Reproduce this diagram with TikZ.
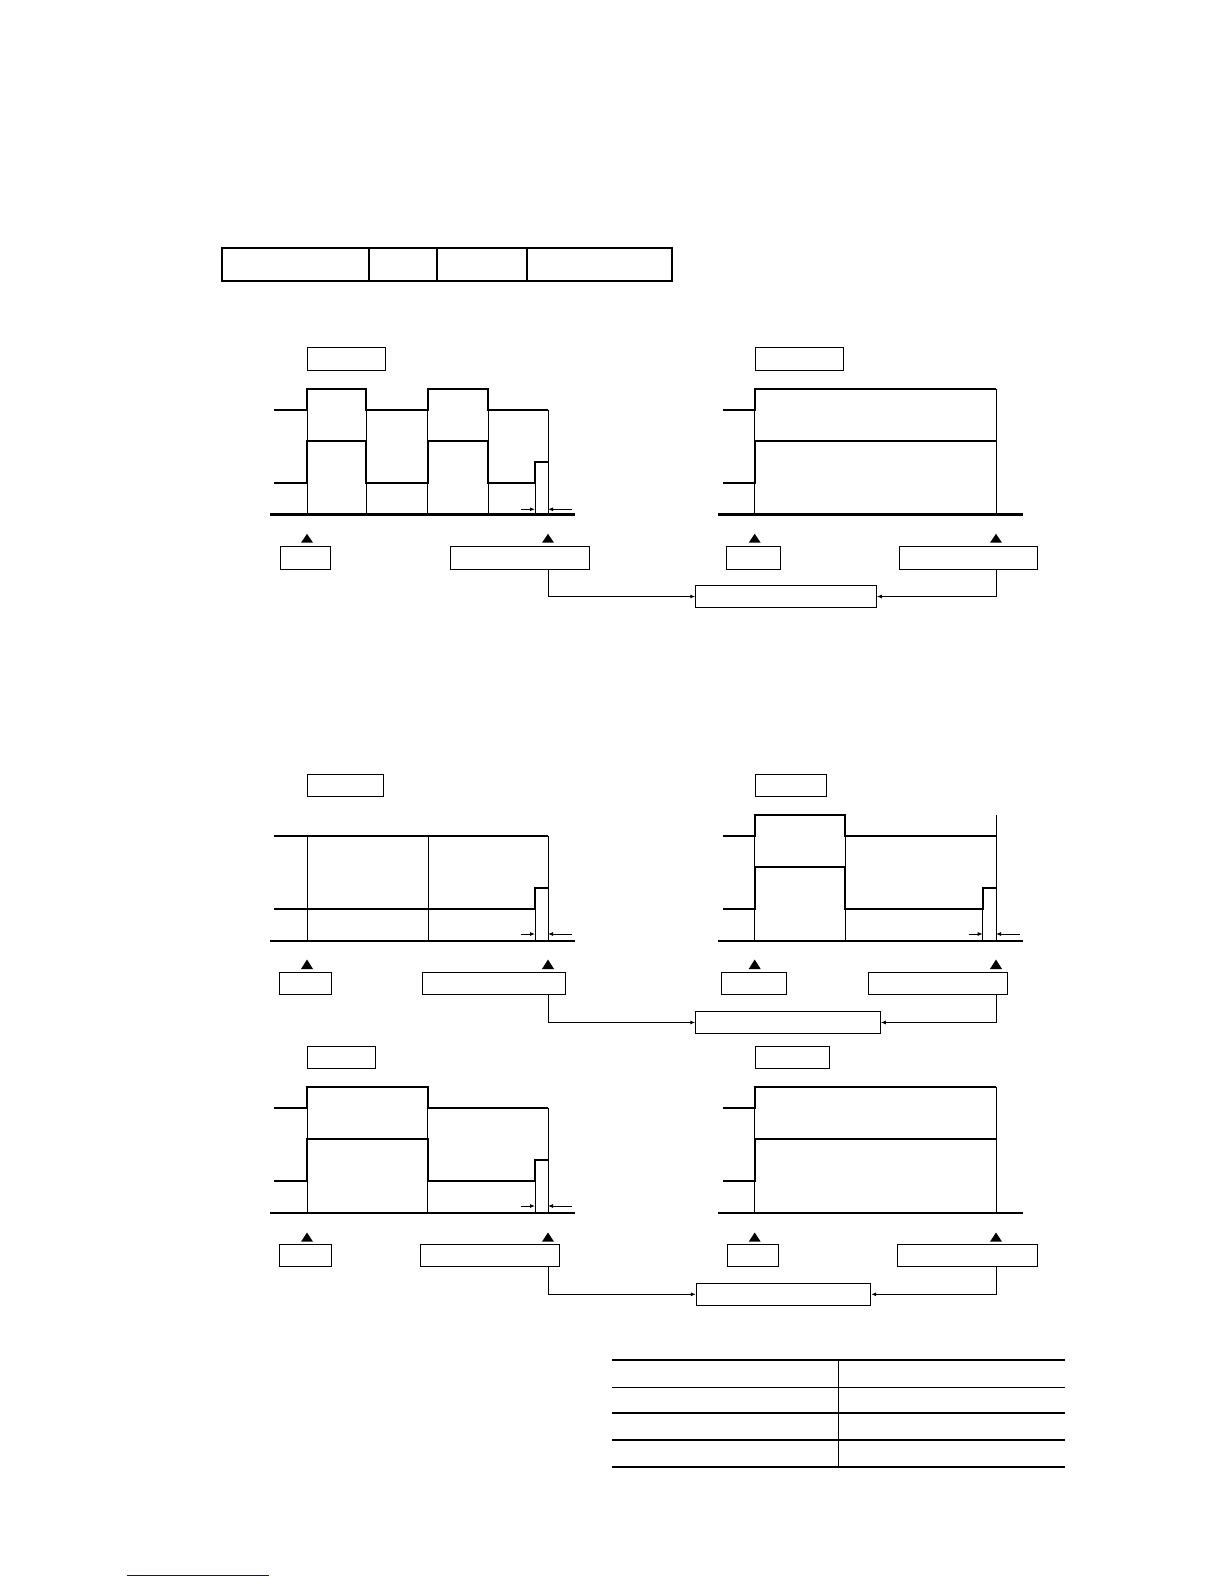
\documentclass[tikz,border=0pt]{standalone}
\usetikzlibrary{fit,arrows.meta}
\definecolor{linkblue}{RGB}{20,20,120}
\tikzset{
  box/.style={draw,line width=0.9pt,inner sep=0pt,rectangle},
  trace/.style={line width=2.2pt,line join=miter},
  guide/.style={line width=1pt},
  axis/.style={line width=2.4pt},
  dimarrow/.style={line width=0.9pt,-{Latex[length=5pt,width=4pt]}},
  conn/.style={line width=1pt,-{Latex[length=5pt,width=4pt]}},
  tablethick/.style={line width=2.4pt},
  tablethin/.style={line width=1.3pt},
}
\newcommand{\mytri}[3]{\fill (#1-6,#2) -- (#1+6,#2) -- (#1,#3) -- cycle;}
\begin{document}
\begin{tikzpicture}[x=1pt,y=-1pt]
\useasboundingbox (0,0) rectangle (1224,1584);

% ---------- top table ----------
\draw[line width=2pt] (222.3,248.3) rectangle (672.3,281);
\draw[line width=2.6pt] (222.3,281) -- (672.3,281);
\draw[line width=2pt] (369,248.3) -- (369,281);
\draw[line width=2pt] (436.7,248.3) -- (436.7,281);
\draw[line width=2pt] (526.7,248.3) -- (526.7,281);

% ================= PANEL 1 =================
\node[box,fit={(307.7,347.3) (385.3,370.3)}] (lab1) {};
\draw[guide] (307,389) -- (307,514.3);
\draw[guide] (366,389) -- (366,514.3);
\draw[guide] (427.7,389) -- (427.7,514.3);
\draw[guide] (488.3,389) -- (488.3,514.3);
\draw[guide] (548,410) -- (548,514.3);
\draw[guide] (535,462) -- (535,514.3);
\draw[trace] (274,410) -- (307,410) -- (307,389) -- (366,389) -- (366,410) -- (427.7,410) -- (427.7,389) -- (488.3,389) -- (488.3,410) -- (548,410);
\draw[trace] (274,483) -- (307,483) -- (307,440.7) -- (366,440.7) -- (366,483) -- (427.7,483) -- (427.7,440.7) -- (488.3,440.7) -- (488.3,483) -- (535,483) -- (535,462) -- (548,462);
\draw[axis] (270,514.3) -- (575,514.3);
\coordinate (d1a) at (521,509.3); \coordinate (d1b) at (535,509.3);
\coordinate (d1c) at (571.7,509.3); \coordinate (d1d) at (548,509.3);
\draw[dimarrow] (d1a) -- (d1b);
\draw[dimarrow] (d1c) -- (d1d);
\mytri{307}{542.7}{533.8}
\mytri{548}{542.7}{533.8}
\node[box,fit={(280.3,546.3) (330.3,569.3)}] (lb1) {};
\node[box,fit={(450.3,546.3) (589.3,569.3)}] (rb1) {};
\coordinate (x1) at (548,514.3);

% ================= PANEL 2 =================
\node[box,fit={(755.7,347.3) (843.3,370.3)}] (lab2) {};
\draw[guide] (754.7,389) -- (754.7,514.3);
\draw[guide] (996,389) -- (996,514.3);
\draw[trace] (723.3,410) -- (754.7,410) -- (754.7,389) -- (996,389);
\draw[trace] (723.3,483) -- (754.7,483) -- (754.7,440.7) -- (996,440.7);
\draw[axis] (718.3,514.3) -- (1022.7,514.3);
\mytri{754.7}{542.7}{533.8}
\mytri{996}{542.7}{533.8}
\node[box,fit={(726.3,546.3) (780.3,569.3)}] (lb2) {};
\node[box,fit={(899.3,546.3) (1037.3,569.3)}] (rb2) {};
\coordinate (x2) at (996,514.3);
\node[box,fit={(695.7,585.3) (876.3,607.7)}] (cb1) {};
\draw[conn] (rb1.south -| x1) |- (cb1.west);
\draw[conn] (rb2.south -| x2) |- (cb1.east);

% ================= PANEL 3 =================
\node[box,fit={(307.7,774.3) (383.3,796.3)}] (lab3) {};
\draw[guide] (307.3,836) -- (307.3,940.7);
\draw[guide] (428.3,836) -- (428.3,940.7);
\draw[guide] (548,836) -- (548,940.7);
\draw[guide] (535,887.7) -- (535,940.7);
\draw[trace] (274,836) -- (548,836);
\draw[trace] (274,909) -- (535,909) -- (535,887.7) -- (548,887.7);
\draw[axis] (270,940.7) -- (575,940.7);
\coordinate (d3a) at (521,934); \coordinate (d3b) at (535,934);
\coordinate (d3c) at (571.7,934); \coordinate (d3d) at (548,934);
\draw[dimarrow] (d3a) -- (d3b);
\draw[dimarrow] (d3c) -- (d3d);
\mytri{307}{969}{959.5}
\mytri{548}{969}{959.5}
\node[box,fit={(279.3,972.3) (331.3,994.3)}] (lb3) {};
\node[box,fit={(422.3,972.3) (565.7,994.3)}] (rb3) {};
\coordinate (x3) at (548,940.7);

% ================= PANEL 4 =================
\node[box,fit={(755.7,774.3) (826.3,796.3)}] (lab4) {};
\draw[guide] (754.7,814.7) -- (754.7,940.7);
\draw[guide] (845.3,814.7) -- (845.3,940.7);
\draw[guide] (996,814.7) -- (996,940.7);
\draw[guide] (982.7,887.7) -- (982.7,940.7);
\draw[trace] (723.3,836) -- (754.7,836) -- (754.7,814.7) -- (845.3,814.7) -- (845.3,836) -- (996,836);
\draw[trace] (723.3,909) -- (754.7,909) -- (754.7,867) -- (845.3,867) -- (845.3,909) -- (982.7,909) -- (982.7,887.7) -- (996,887.7);
\draw[axis] (718.3,940.7) -- (1022.7,940.7);
\coordinate (d4a) at (968.7,934); \coordinate (d4b) at (982.7,934);
\coordinate (d4c) at (1020,934); \coordinate (d4d) at (996,934);
\draw[dimarrow] (d4a) -- (d4b);
\draw[dimarrow] (d4c) -- (d4d);
\mytri{754.7}{969}{959.5}
\mytri{996}{969}{959.5}
\node[box,fit={(721.3,972.3) (786.3,994.3)}] (lb4) {};
\node[box,fit={(868.7,972.3) (1007.3,994.3)}] (rb4) {};
\coordinate (x4) at (996,940.7);
\node[box,fit={(695.7,1011.7) (880.3,1033.3)}] (cb2) {};
\draw[conn] (rb3.south -| x3) |- (cb2.west);
\draw[conn] (rb4.south -| x4) |- (cb2.east);

% ================= PANEL 5 =================
\node[box,fit={(307.7,1046) (375.3,1068.3)}] (lab5) {};
\draw[guide] (307,1087.3) -- (307,1212.7);
\draw[guide] (427.7,1087.3) -- (427.7,1212.7);
\draw[guide] (548,1108) -- (548,1212.7);
\draw[guide] (535,1160) -- (535,1212.7);
\draw[trace] (274,1108) -- (307,1108) -- (307,1087.3) -- (427.7,1087.3) -- (427.7,1108) -- (548,1108);
\draw[trace] (274,1181) -- (307,1181) -- (307,1139) -- (427.7,1139) -- (427.7,1181) -- (535,1181) -- (535,1160) -- (548,1160);
\draw[axis] (270,1212.7) -- (575,1212.7);
\coordinate (d5a) at (521,1206); \coordinate (d5b) at (535,1206);
\coordinate (d5c) at (571.7,1206); \coordinate (d5d) at (548,1206);
\draw[dimarrow] (d5a) -- (d5b);
\draw[dimarrow] (d5c) -- (d5d);
\mytri{307}{1241.7}{1232.5}
\mytri{548}{1241.7}{1232.5}
\node[box,fit={(279.3,1244.3) (331.3,1266.3)}] (lb5) {};
\node[box,fit={(420.7,1244.3) (559.3,1266.3)}] (rb5) {};
\coordinate (x5) at (548,1212.7);

% ================= PANEL 6 =================
\node[box,fit={(755.7,1046) (829.3,1068.3)}] (lab6) {};
\draw[guide] (754.7,1087.3) -- (754.7,1212.7);
\draw[guide] (996,1087.3) -- (996,1212.7);
\draw[trace] (723.3,1108) -- (754.7,1108) -- (754.7,1087.3) -- (996,1087.3);
\draw[trace] (723.3,1181) -- (754.7,1181) -- (754.7,1139) -- (996,1139);
\draw[axis] (718.3,1212.7) -- (1022.7,1212.7);
\mytri{754.7}{1241.7}{1232.5}
\mytri{996}{1241.7}{1232.5}
\node[box,fit={(727.3,1244.3) (778.3,1266.3)}] (lb6) {};
\node[box,fit={(897.3,1244.3) (1037.3,1266.3)}] (rb6) {};
\coordinate (x6) at (996,1212.7);
\node[box,fit={(696.3,1283.3) (870.7,1305.3)}] (cb3) {};
\draw[conn] (rb5.south -| x5) |- (cb3.west);
\draw[conn] (rb6.south -| x6) |- (cb3.east);

% ---------- bottom table ----------
\draw[tablethick] (612.3,1360) -- (1065,1360);
\draw[tablethin] (612.3,1387.7) -- (1065,1387.7);
\draw[tablethin] (612.3,1413) -- (1065,1413);
\draw[tablethin] (612.3,1440) -- (1065,1440);
\draw[tablethick] (612.3,1466.7) -- (1065,1466.7);
\draw[tablethin] (838.3,1360) -- (838.3,1466.7);

% ---------- footer link line ----------
\draw[linkblue,line width=1pt] (127.3,1575) -- (269,1575);
\end{tikzpicture}
\end{document}
